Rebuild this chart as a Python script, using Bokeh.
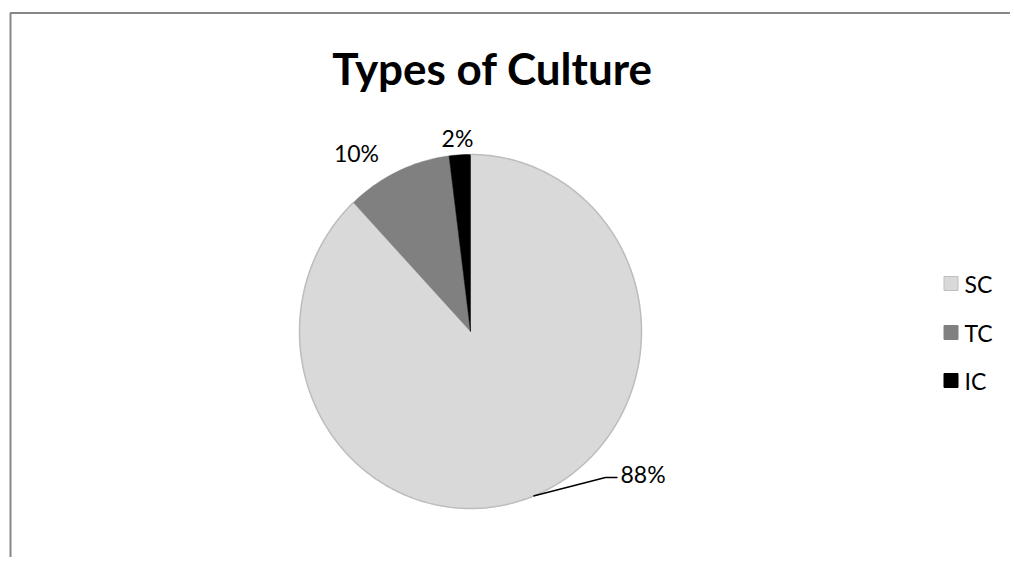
import math
from bokeh.plotting import figure
from bokeh.models import Range1d, ColumnDataSource
from bokeh.core.properties import value
from bokeh.embed import file_html
from bokeh.resources import INLINE

# ---- data ----
title = "Types of Culture"
categories = ["SC", "TC", "IC"]
percents = [88, 10, 2]
colors = ["#D9D9D9", "#808080", "#000000"]

# ---- layout (pixel units) ----
W, H = 1010, 557
FONT = "Lato"

def px(X, Y):
    """page pixel -> data coords"""
    return X, H - Y

p = figure(width=W, height=H, output_backend="svg", toolbar_location=None,
           x_range=Range1d(0, W), y_range=Range1d(0, H), min_border=0)
p.axis.visible = False
p.grid.visible = False
p.outline_line_color = None
p.background_fill_color = "white"

# border (top and left edges visible)
bx, by = px(10, 12.5)
p.line([bx, bx, W + 5], [-5, by, by], line_color="#878787", line_width=2)

# pie (slightly elliptical, as in the reference)
cx, cy = px(470, 331)
RX, RY = 171, 177
total = sum(percents)
xs, ys, arcs = [], [], []
cum = 0.0
for v in percents:
    a0 = math.pi / 2 - 2 * math.pi * (cum + v) / total
    a1 = math.pi / 2 - 2 * math.pi * cum / total
    n = max(4, int(360 * v / total))
    angs = [a0 + (a1 - a0) * k / n for k in range(n + 1)]
    ax = [cx + RX * math.cos(a) for a in angs]
    ay = [cy + RY * math.sin(a) for a in angs]
    xs.append([cx] + ax)
    ys.append([cy] + ay)
    arcs.append((ax, ay, (a0 + a1) / 2))
    cum += v
src = ColumnDataSource(dict(xs=xs, ys=ys, color=colors, cat=categories))
p.patches("xs", "ys", fill_color="color", line_color="color", line_width=0.5,
          source=src)
# light outline on the SC arc
p.line(arcs[0][0], arcs[0][1], line_color="#BDBDBD", line_width=1.5)

# data labels
label_txt = [f"{v}%" for v in percents]
offs = {"TC": (-113, -178), "IC": (-12, -193)}
for c, t in zip(categories, label_txt):
    if c in offs:
        lx, ly = px(469 + offs[c][0], 330 + offs[c][1])
        p.text([lx], [ly], text=[t], text_align="center", text_baseline="middle",
               text_font=value(FONT), text_font_size="23px", text_color="#000000")

# SC label with leader line
mid = arcs[0][2]
ex, ey = cx + RX * math.cos(mid), cy + RY * math.sin(mid)
kx, ky = px(605, 477)
hx, _ = px(617, 477)
p.line([ex, kx, hx], [ey, ky, ky], line_color="#000000", line_width=1.5)
tx, ty = px(620, 473)
p.text([tx], [ty], text=[label_txt[0]], text_align="left", text_baseline="middle",
       text_font=value(FONT), text_font_size="23px", text_color="#000000")

# title
tx, ty = px(492, 67)
p.text([tx], [ty], text=[title], text_align="center", text_baseline="middle",
       text_font=value(FONT), text_font_size="44px", text_font_style="bold",
       text_color="#000000")

# legend
lx0, _ = px(950.5, 0)
ltx, _ = px(964, 0)
rows_y = [283, 332, 380]
for c, col, yy in zip(categories, colors, rows_y):
    _, ly = px(0, yy)
    p.rect([lx0], [ly], width=14, height=14, fill_color=col,
           line_color="#BFBFBF" if c == "SC" else col, line_width=1)
    p.text([ltx], [ly], text=[c], text_align="left", text_baseline="middle",
           text_font=value(FONT), text_font_size="23px", text_color="#000000")

open("out.html", "w").write(file_html(p, INLINE))
